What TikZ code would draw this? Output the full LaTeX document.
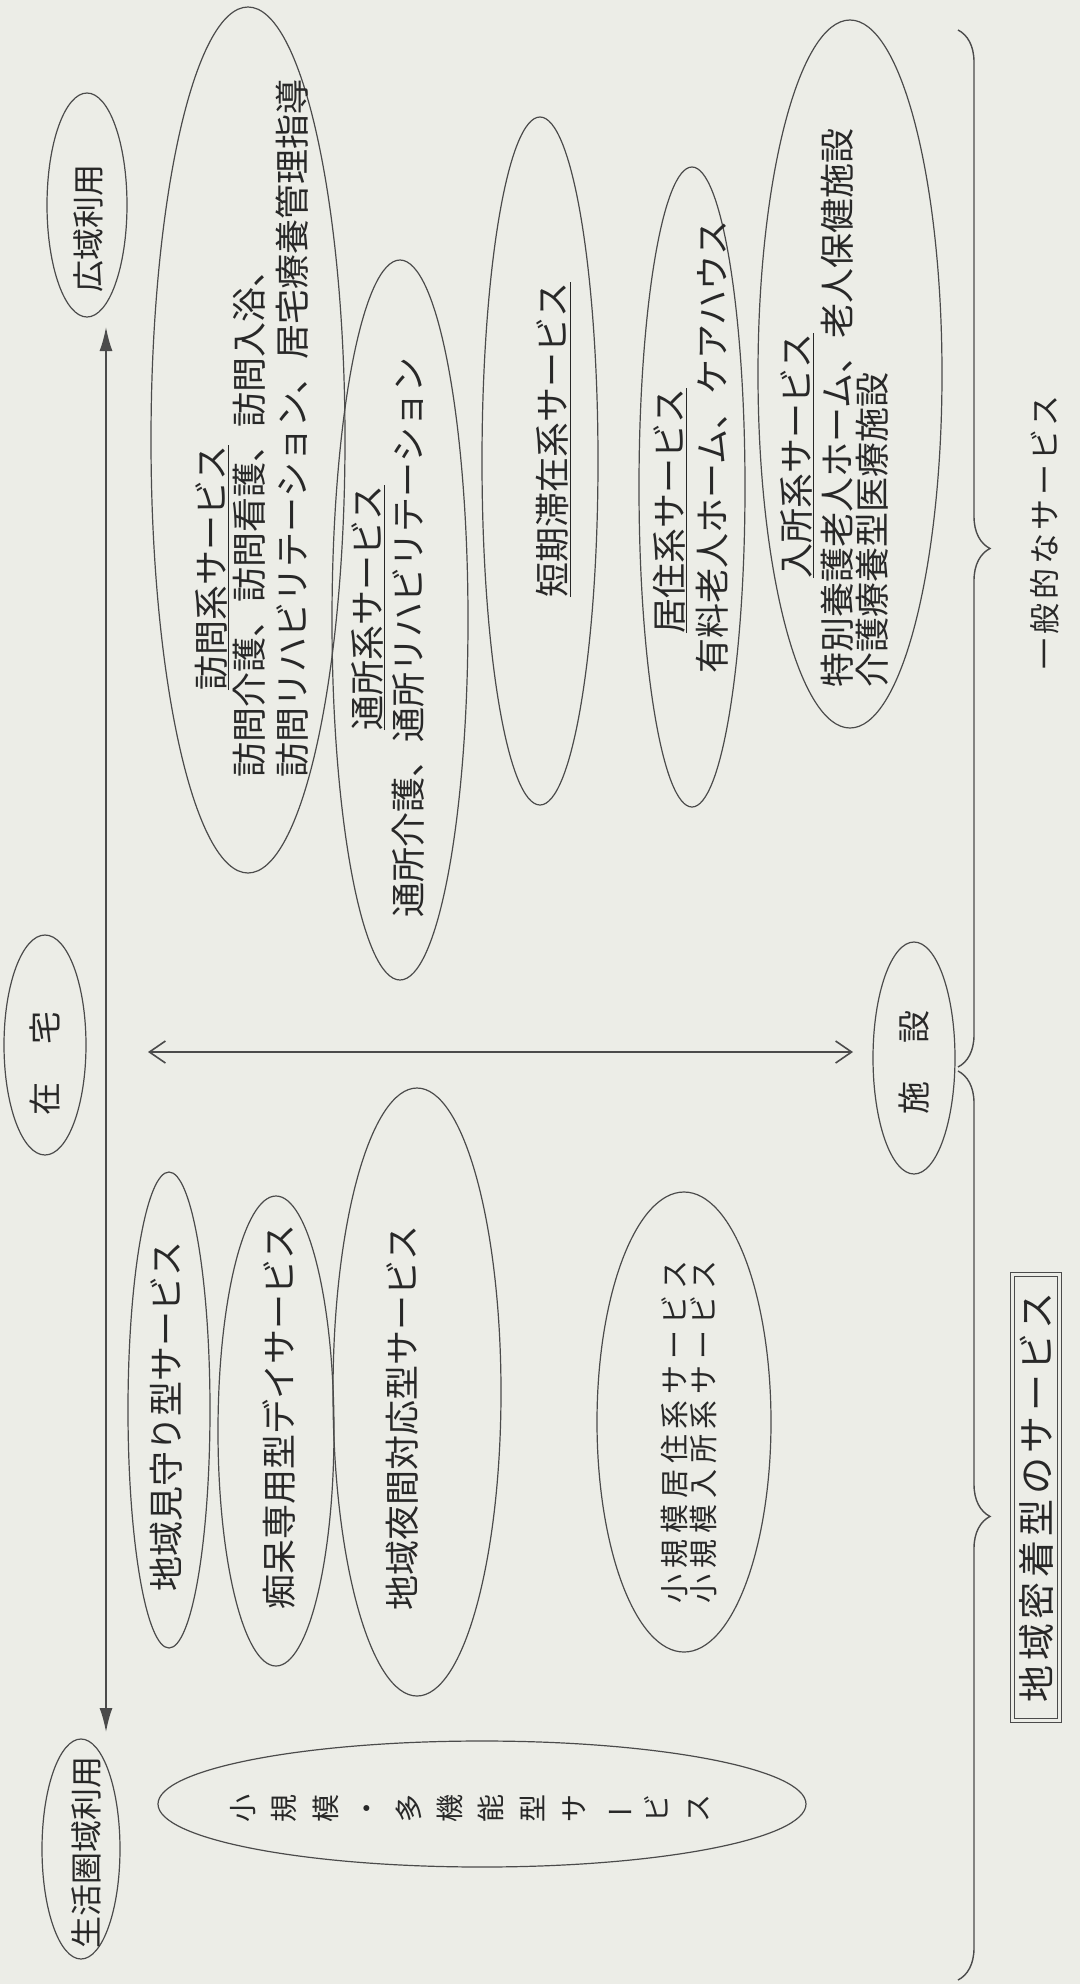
\documentclass[tikz,border=0pt]{standalone}
\usepackage{fontspec}
\usepackage{graphicx}
\setmainfont{Noto Sans CJK JP}
\newfontfamily\jpsmall[LetterSpace=20]{Noto Sans CJK JP}
\newfontfamily\jpwide[LetterSpace=12]{Noto Sans CJK JP}
\usetikzlibrary{shapes.geometric, arrows.meta, decorations.pathreplacing}
\definecolor{bgc}{RGB}{236,237,231}
\definecolor{linec}{RGB}{75,75,75}
\definecolor{textc}{RGB}{40,40,40}
\begin{document}
\begin{tikzpicture}[x=1pt,y=-1pt,
  ell/.style={draw=linec, line width=1.2pt, ellipse, inner sep=0pt, outer sep=0pt, rotate=90},
  lab/.style={rotate=90, inner sep=0pt, outer sep=0pt, text=textc, font=\fontsize{35}{40}\selectfont},
  labw/.style={lab, anchor=west},
  arrv/.style={draw=linec, line width=1.6pt, {Latex[length=24pt,width=13pt]}-{Latex[length=24pt,width=13pt]}},
  arrh/.style={draw=linec, line width=1.6pt, {Straight Barb[length=16pt,width=22pt]}-{Straight Barb[length=16pt,width=22pt]}},
  brc/.style={draw=linec, line width=1.4pt, decorate},
]
\fill[bgc] (0,0) rectangle (1080,1984);
\useasboundingbox (0,0) rectangle (1080,1984);

% axis end ellipses
\node[ell, minimum width=224pt, minimum height=80pt] (kw) at (87,205) {};
\node[lab, font=\fontsize{32}{36}\selectfont] (kwt) at (88,228) {広域利用};
\node[ell, minimum width=220pt, minimum height=78pt] (sk) at (81,1849) {};
\node[lab, font=\fontsize{32}{36}\selectfont] (skt) at (86,1852) {生活圏域利用};
\node[ell, minimum width=220pt, minimum height=82pt] (zt) at (45,1045) {};
\node[lab, font=\fontsize{33}{36}\selectfont] (ztt) at (45,1063) {在\hspace{38pt}宅};
\node[ell, minimum width=232pt, minimum height=82pt] (ss) at (914,1058) {};
\node[lab, font=\fontsize{33}{36}\selectfont] (sst) at (914,1062) {施\hspace{38pt}設};

% arrows
\draw[arrv] ([xshift=25pt,yshift=7pt]sk.east) -- ([xshift=19pt,yshift=-10pt]kw.west);
\draw[arrh] ([xshift=62pt,yshift=-7pt]zt.south) -- ([xshift=-20pt,yshift=6pt]ss.north);

% general services
\node[ell, minimum width=866pt, minimum height=194pt] (hm) at (248,440) {};
\node[labw] (hm1) at (212,690) {\underline{訪問系サービス}};
\node[labw] (hm2) at (249,777) {訪問介護、訪問看護、訪問入浴、};
\node[labw] (hm3) at (292,777) {訪問リハビリテーション、居宅療養管理指導};

\node[ell, minimum width=720pt, minimum height=136pt] (ts) at (400,620) {};
\node[labw] (ts1) at (368,730) {\underline{通所系サービス}};
\node[labw] (ts2) at (408,917) {通所介護、通所リハビリテーション};

\node[ell, minimum width=688pt, minimum height=116pt] (tk) at (540,461) {};
\node[labw] (tk1) at (553,597) {\underline{短期滞在系サービス}};

\node[ell, minimum width=640pt, minimum height=106pt] (kj) at (692,487) {};
\node[labw] (kj1) at (670,633) {\underline{居住系サービス}};
\node[labw] (kj2) at (712,673) {有料老人ホーム、ケアハウス};

\node[ell, minimum width=708pt, minimum height=184pt] (ny) at (850,374) {};
\node[labw] (ny1) at (797,578) {\underline{入所系サービス}};
\node[labw] (ny2) at (837,687) {特別養護老人ホーム、老人保健施設};
\node[labw] (ny3) at (872,687) {介護療養型医療施設};

% community-based services
\node[ell, minimum width=476pt, minimum height=82pt] (mm) at (169,1410) {};
\node[lab] (mmt) at (166,1416) {地域見守り型サービス};
\node[ell, minimum width=470pt, minimum height=116pt] (ch) at (276,1431) {};
\node[lab] (cht) at (279,1417) {痴呆専用型デイサービス};
\node[ell, minimum width=608pt, minimum height=168pt] (yk) at (417,1392) {};
\node[lab] (ykt) at (402,1418) {地域夜間対応型サービス};
\node[ell, minimum width=460pt, minimum height=174pt] (sb) at (684,1422) {};
\node[lab, align=left, font=\jpsmall\fontsize{29}{29}\selectfont] (sbt) at (689,1432) {小規模居住系サービス\\小規模入所系サービス};
\node[ell, minimum width=126pt, minimum height=648pt] (tn) at (482,1804) {};
\node[lab, align=center, font=\fontsize{28}{41.4}\selectfont] (tnt) at (470,1808) {小\\規\\模\\・\\多\\機\\能\\型\\サ\\\rotatebox[origin=c]{90}{ー}\\ビ\\ス};

% braces and group labels
\draw[brc, decoration={brace, amplitude=32pt, aspect=0.5}] (958,30) -- (958,1067);
\draw[brc, decoration={brace, amplitude=32pt, aspect=0.49}] (958,1071) -- (958,1980);
\node[lab, font=\jpwide\fontsize{31}{36}\selectfont] (ipp) at (1045,532) {一般的なサービス};
\node[rotate=90, draw=linec, double=bgc, double distance=3pt, line width=1pt, minimum width=446pt, minimum height=47pt, inner sep=0pt, text=textc, font=\jpwide\fontsize{37}{40}\selectfont] (cm) at (1036,1497) {地域密着型のサービス};
\end{tikzpicture}
\end{document}
